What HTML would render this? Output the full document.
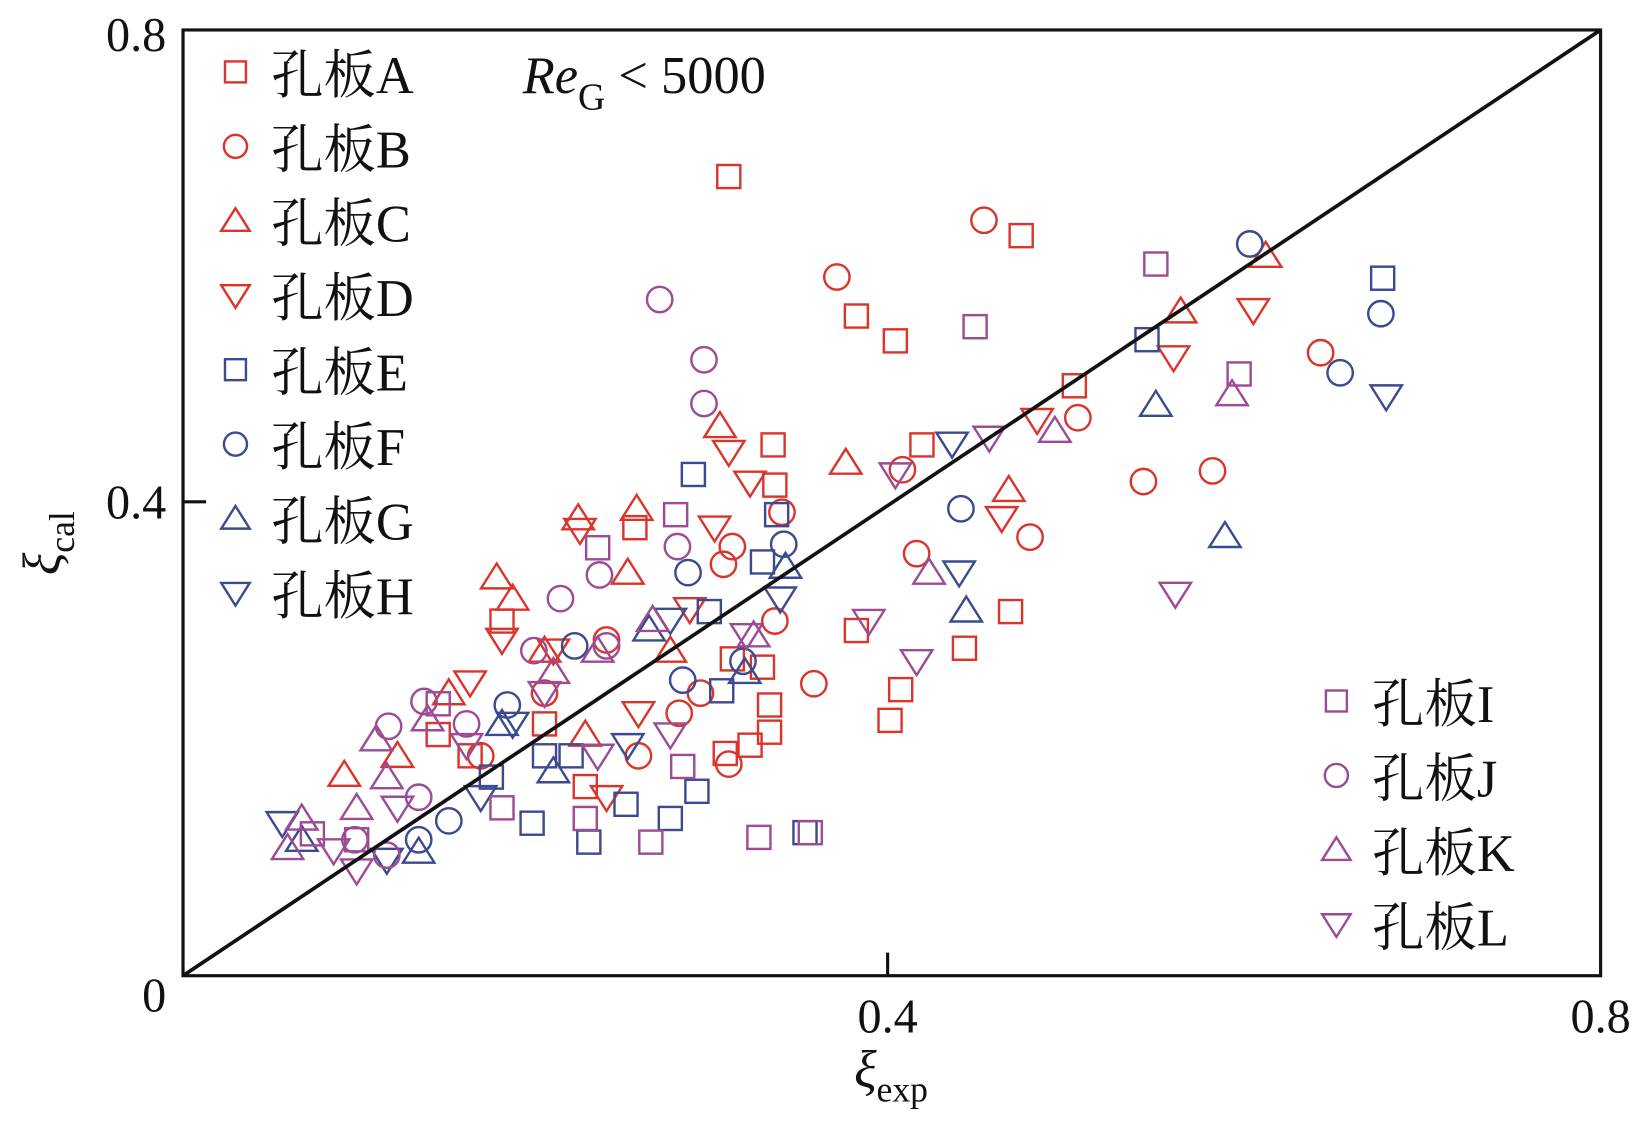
<!DOCTYPE html>
<html><head><meta charset="utf-8"><style>
html,body{margin:0;padding:0;background:#fff}
svg text{font-family:"Liberation Serif","Noto Serif CJK SC",serif;fill:#111}
</style></head><body>
<svg id="chart" width="1642" height="1122" viewBox="0 0 1642 1122" xmlns="http://www.w3.org/2000/svg">
<g transform="translate(-1.5,0.6) scale(1.0485)">
<rect x="176" y="28" width="1352" height="902" fill="none" stroke="#111" stroke-width="3"/>
<line x1="848" y1="930" x2="848" y2="908" stroke="#111" stroke-width="3"/>
<line x1="176" y1="478" x2="198" y2="478" stroke="#111" stroke-width="3"/>
<text x="160" y="48" font-size="46" text-anchor="end">0.8</text>
<text x="160" y="494" font-size="46" text-anchor="end">0.4</text>
<text x="160" y="964" font-size="46" text-anchor="end">0</text>
<text x="848" y="984" font-size="46" text-anchor="middle">0.4</text>
<text x="1528" y="984" font-size="46" text-anchor="middle">0.8</text>
<text x="816" y="1036" font-size="50" font-style="italic">ξ<tspan font-size="34" font-style="normal" dy="14">exp</tspan></text>
<text transform="translate(58,548) rotate(-90)" font-size="50" font-style="italic">ξ<tspan font-size="34" font-style="normal" dy="14">cal</tspan></text>
<text x="500" y="88" font-size="50"><tspan font-style="italic">Re</tspan><tspan font-size="36" dy="16">G</tspan><tspan dy="-16"> &lt; 5000</tspan></text>
<g id="marks"></g>
<g id="legend"></g>
</g>
</svg>
<script>
const seriesNames = ["孔板A","孔板B","孔板C","孔板D","孔板E","孔板F","孔板G","孔板H","孔板I","孔板J","孔板K","孔板L"];
const seriesShapes = ["square","circle","up","down","square","circle","up","down","square","circle","up","down"];
const seriesColors = ["#d9352b","#d9352b","#d9352b","#d9352b","#3c4a8f","#3c4a8f","#3c4a8f","#3c4a8f","#9c4b94","#9c4b94","#9c4b94","#9c4b94"];
const xTicks = [0, 0.4, 0.8];
const yTicks = [0, 0.4, 0.8];
const dataA = [[0.308,0.676],[0.473,0.626],[0.380,0.558],[0.402,0.537],[0.503,0.499],[0.417,0.449],[0.333,0.449],[0.334,0.415],[0.255,0.379],[0.467,0.308],[0.380,0.292],[0.441,0.277],[0.405,0.242],[0.399,0.216],[0.331,0.229],[0.331,0.206],[0.320,0.195],[0.306,0.188],[0.327,0.261],[0.310,0.268],[0.180,0.300],[0.204,0.213],[0.162,0.186],[0.227,0.160],[0.144,0.204]];
const dataB = [[0.452,0.639],[0.369,0.591],[0.642,0.527],[0.505,0.472],[0.406,0.428],[0.542,0.418],[0.581,0.427],[0.478,0.371],[0.414,0.357],[0.338,0.392],[0.305,0.348],[0.356,0.247],[0.334,0.300],[0.308,0.179],[0.292,0.239],[0.280,0.222],[0.239,0.284],[0.204,0.239],[0.168,0.186],[0.257,0.186],[0.310,0.363]];
const dataC = [[0.611,0.609],[0.563,0.562],[0.303,0.465],[0.374,0.434],[0.466,0.411],[0.256,0.395],[0.223,0.387],[0.177,0.337],[0.186,0.319],[0.251,0.341],[0.204,0.275],[0.150,0.239],[0.091,0.170],[0.121,0.186],[0.227,0.204],[0.275,0.275]];
const dataD = [[0.308,0.443],[0.320,0.417],[0.300,0.379],[0.604,0.563],[0.559,0.523],[0.482,0.470],[0.462,0.387],[0.224,0.377],[0.180,0.284],[0.257,0.222],[0.162,0.248],[0.239,0.151],[0.209,0.275],[0.286,0.310]];
const dataE = [[0.677,0.590],[0.544,0.538],[0.288,0.424],[0.335,0.390],[0.327,0.350],[0.297,0.308],[0.304,0.241],[0.290,0.156],[0.351,0.121],[0.250,0.145],[0.229,0.113],[0.197,0.129],[0.219,0.186],[0.174,0.168],[0.275,0.133],[0.204,0.186]];
const dataF = [[0.602,0.619],[0.676,0.560],[0.653,0.510],[0.439,0.395],[0.339,0.365],[0.285,0.341],[0.282,0.250],[0.221,0.279],[0.183,0.229],[0.150,0.131],[0.133,0.115],[0.316,0.266]];
const dataG = [[0.549,0.483],[0.588,0.372],[0.442,0.309],[0.340,0.346],[0.317,0.257],[0.263,0.293],[0.209,0.173],[0.180,0.213],[0.133,0.105],[0.067,0.115]];
const dataH = [[0.679,0.490],[0.434,0.450],[0.438,0.341],[0.337,0.319],[0.251,0.195],[0.275,0.301],[0.186,0.213],[0.168,0.151],[0.115,0.098],[0.056,0.129]];
const dataI = [[0.549,0.602],[0.447,0.549],[0.596,0.509],[0.278,0.390],[0.234,0.362],[0.282,0.177],[0.264,0.113],[0.325,0.117],[0.354,0.121],[0.227,0.133],[0.180,0.142],[0.144,0.230],[0.098,0.115],[0.073,0.120]];
const dataJ = [[0.269,0.572],[0.294,0.521],[0.294,0.484],[0.279,0.363],[0.235,0.339],[0.213,0.319],[0.198,0.275],[0.136,0.232],[0.116,0.211],[0.160,0.213],[0.115,0.102],[0.097,0.115],[0.133,0.151],[0.239,0.279]];
const dataK = [[0.492,0.461],[0.592,0.492],[0.421,0.341],[0.265,0.301],[0.234,0.275],[0.209,0.257],[0.138,0.217],[0.109,0.200],[0.115,0.168],[0.098,0.142],[0.059,0.108],[0.067,0.133],[0.322,0.288]];
const dataL = [[0.455,0.455],[0.402,0.424],[0.560,0.323],[0.387,0.300],[0.414,0.266],[0.318,0.288],[0.275,0.204],[0.234,0.186],[0.204,0.239],[0.160,0.195],[0.121,0.142],[0.098,0.089],[0.085,0.106]];
const allData = [dataA,dataB,dataC,dataD,dataE,dataF,dataG,dataH,dataI,dataJ,dataK,dataL];
const fitLine = [[0,0],[0.8,0.8]];

const NS = "http://www.w3.org/2000/svg";
const X0 = 176, X1 = 1528, Y0 = 930, Y1 = 28;
function xScale(v){ return X0 + (v - 0) / 0.8 * (X1 - X0); }
function yScale(v){ return Y0 - (v - 0) / 0.8 * (Y0 - Y1); }

function marker(shape, cx, cy, color, s){
  let el;
  if (shape === "square") {
    el = document.createElementNS(NS, "rect");
    el.setAttribute("x", cx - s/2); el.setAttribute("y", cy - s/2);
    el.setAttribute("width", s); el.setAttribute("height", s);
  } else if (shape === "circle") {
    el = document.createElementNS(NS, "circle");
    el.setAttribute("cx", cx); el.setAttribute("cy", cy); el.setAttribute("r", s*0.55);
  } else {
    el = document.createElementNS(NS, "polygon");
    const w = s*0.68, h = s*0.6;
    const pts = shape === "up"
      ? [[cx, cy-h],[cx-w, cy+h*0.8],[cx+w, cy+h*0.8]]
      : [[cx, cy+h],[cx-w, cy-h*0.8],[cx+w, cy-h*0.8]];
    el.setAttribute("points", pts.map(p => p.join(",")).join(" "));
  }
  el.setAttribute("fill", "none");
  el.setAttribute("stroke", color);
  el.setAttribute("stroke-width", "2.3");
  return el;
}

const marks = document.getElementById("marks");
const line = document.createElementNS(NS, "line");
line.setAttribute("x1", xScale(fitLine[0][0])); line.setAttribute("y1", yScale(fitLine[0][1]));
line.setAttribute("x2", xScale(fitLine[1][0])); line.setAttribute("y2", yScale(fitLine[1][1]));
line.setAttribute("stroke", "#111"); line.setAttribute("stroke-width", "3.5");



allData.forEach((ser, i) => {
  const g = document.createElementNS(NS, "g");
  
  
  ser.forEach(d => {
    const m = marker(seriesShapes[i], xScale(d[0]), yScale(d[1]), seriesColors[i], 22);
    
    
    g.appendChild(m);
  });
  marks.appendChild(g);
});
marks.appendChild(line);

const legend = document.getElementById("legend");
seriesNames.forEach((name, i) => {
  const left = i < 8;
  const mx = left ? 226 : 1276;
  const my = left ? 68 + i*71 : 668 + (i-8)*71;
  const g = document.createElementNS(NS, "g");
  
  
  const m = marker(seriesShapes[i], mx, my, seriesColors[i], 20);
  g.appendChild(m);
  const t = document.createElementNS(NS, "text");
  t.setAttribute("x", mx + 34); t.setAttribute("y", my + 20);
  t.setAttribute("font-size", "50");
  t.textContent = name;
  g.appendChild(t);
  legend.appendChild(g);
});
</script>
</body></html>
